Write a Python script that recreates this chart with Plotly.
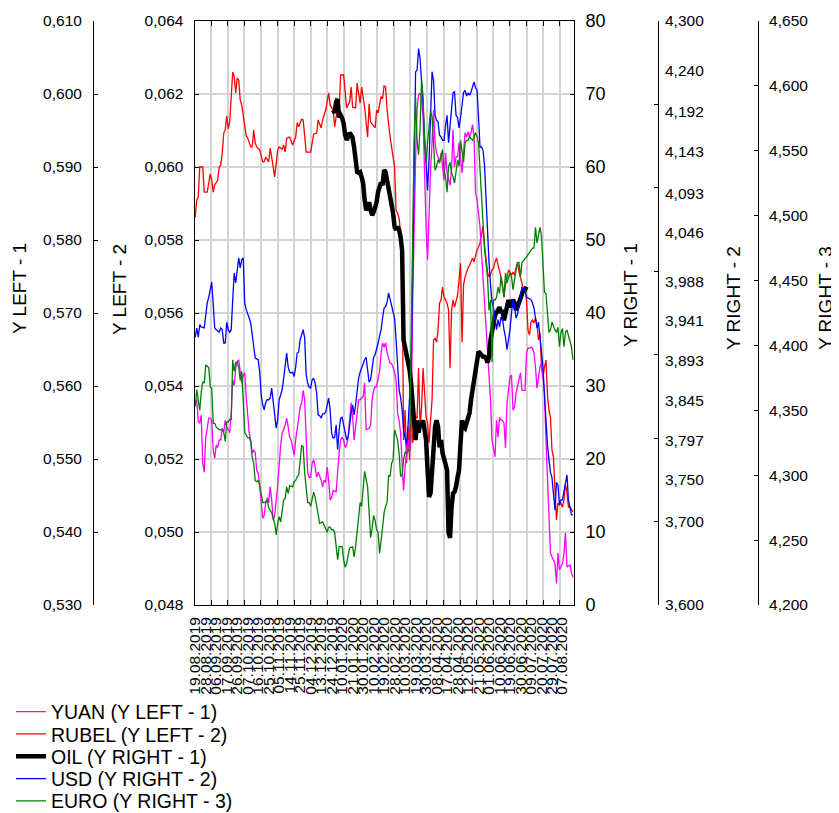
import plotly.graph_objects as go

FONT = "Liberation Sans, Arial, sans-serif"

date_labels = ["19.08.2019", "28.08.2019", "06.09.2019", "17.09.2019", "26.09.2019", "07.10.2019",
               "16.10.2019", "25.10.2019", "05.11.2019", "14.11.2019", "25.11.2019", "04.12.2019",
               "13.12.2019", "24.12.2019", "10.01.2020", "21.01.2020", "30.01.2020", "10.02.2020",
               "19.02.2020", "28.02.2020", "10.03.2020", "19.03.2020", "30.03.2020", "08.04.2020",
               "17.04.2020", "28.04.2020", "12.05.2020", "21.05.2020", "01.06.2020", "10.06.2020",
               "19.06.2020", "30.06.2020", "09.07.2020", "20.07.2020", "29.07.2020", "07.08.2020"]
label_step = 7  # one label every 7 trading days

# USD (Y RIGHT - 2), one value per trading day
usd = [3.921, 3.932, 3.921, 3.936, 3.933, 3.933, 3.932, 3.948, 3.962, 3.969,
       3.980, 3.987, 3.960, 3.932, 3.930, 3.929, 3.927, 3.932, 3.930, 3.914,
       3.914, 3.939, 3.930, 3.927, 3.930, 3.966, 3.998, 3.986, 4.004, 4.016,
       4.004, 4.014, 4.016, 3.962, 3.954, 3.950, 3.944, 3.938, 3.926, 3.914,
       3.896, 3.895, 3.894, 3.879, 3.852, 3.840, 3.834, 3.843, 3.846, 3.846,
       3.848, 3.860, 3.846, 3.831, 3.812, 3.822, 3.846, 3.852, 3.858, 3.872,
       3.888, 3.902, 3.885, 3.879, 3.878, 3.879, 3.874, 3.885, 3.902, 3.903,
       3.918, 3.924, 3.930, 3.920, 3.876, 3.866, 3.861, 3.860, 3.870, 3.872,
       3.866, 3.854, 3.828, 3.827, 3.824, 3.829, 3.829, 3.831, 3.840, 3.848,
       3.834, 3.806, 3.800, 3.801, 3.816, 3.786, 3.810, 3.824, 3.825, 3.816,
       3.804, 3.798, 3.801, 3.818, 3.830, 3.840, 3.828, 3.840, 3.858, 3.872,
       3.879, 3.885, 3.889, 3.894, 3.897, 3.885, 3.867, 3.870, 3.888, 3.897,
       3.900, 3.906, 3.914, 3.922, 3.930, 3.944, 3.956, 3.958, 3.963, 3.974,
       3.966, 3.960, 3.954, 3.944, 3.918, 3.894, 3.858, 3.849, 3.834, 3.810,
       3.798, 3.792, 3.816, 3.846, 3.882, 3.990, 4.133, 4.239, 4.241, 4.267,
       4.255, 4.229, 4.199, 4.161, 4.133, 4.097, 4.133, 4.185, 4.239, 4.229,
       4.187, 4.181, 4.179, 4.163, 4.161, 4.157, 4.157, 4.175, 4.187, 4.154,
       4.175, 4.193, 4.214, 4.215, 4.187, 4.184, 4.172, 4.184, 4.196, 4.214,
       4.217, 4.210, 4.214, 4.211, 4.215, 4.223, 4.227, 4.220, 4.217, 4.184,
       4.149, 4.149, 4.145, 4.127, 4.085, 4.050, 4.011, 3.984, 3.963, 3.957,
       3.945, 3.930, 3.942, 3.933, 3.945, 3.942, 3.930, 3.921, 3.906, 3.918,
       3.930, 3.950, 3.966, 3.960, 3.944, 3.948, 3.960, 3.974, 3.981, 3.978,
       3.978, 3.969, 3.968, 3.966, 3.966, 3.962, 3.956, 3.944, 3.932, 3.939,
       3.918, 3.906, 3.885, 3.852, 3.816, 3.792, 3.774, 3.759, 3.753, 3.729,
       3.714, 3.747, 3.744, 3.720, 3.726, 3.726, 3.735, 3.744, 3.756, 3.726,
       3.716, 3.708, 3.708]

# RUBEL (Y LEFT - 2)
rubel_day = [0, 1, 2, 3, 5, 6, 8, 10, 11, 12, 13, 15, 16, 17, 18, 19, 20, 21, 22, 23,
             24, 25, 26, 27, 28, 29, 30, 31, 33, 34, 35, 37, 38, 39, 40, 41, 43, 45, 46, 47,
             49, 50, 51, 53, 55, 56, 58, 59, 60, 61, 63, 64, 65, 67, 68, 69, 71, 72, 74, 77,
             79, 81, 82, 84, 85, 87, 89, 90, 92, 93, 95, 96, 97, 99, 100, 101, 103, 104, 105, 107,
             108, 110, 111, 113, 115, 116, 117, 119, 120, 121, 122, 124, 125, 126, 127, 128, 130, 132, 133, 134,
             135, 136] + list(range(137, 253))
rubel = [0.05863, 0.05910, 0.05918, 0.06000, 0.06000, 0.05931, 0.05931, 0.05981, 0.05964, 0.05931,
         0.05951, 0.05964, 0.06000, 0.06005, 0.06038, 0.06093, 0.06101, 0.06140, 0.06104, 0.06123,
         0.06192, 0.06260, 0.06247, 0.06203, 0.06244, 0.06238, 0.06184, 0.06170, 0.06115, 0.06085,
         0.06079, 0.06055, 0.06055, 0.06101, 0.06066, 0.06055, 0.06047, 0.06014, 0.06014, 0.06027,
         0.06014, 0.06052, 0.06027, 0.05973, 0.06047, 0.06055, 0.06049, 0.06060, 0.06041, 0.06079,
         0.06082, 0.06068, 0.06060, 0.06082, 0.06121, 0.06110, 0.06131, 0.06129, 0.06041, 0.06041,
         0.06090, 0.06093, 0.06129, 0.06107, 0.06129, 0.06156, 0.06203, 0.06170, 0.06156, 0.06110,
         0.06164, 0.06156, 0.06252, 0.06252, 0.06216, 0.06162, 0.06178, 0.06219, 0.06164, 0.06162,
         0.06230, 0.06175, 0.06219, 0.06164, 0.06082, 0.06173, 0.06123, 0.06110, 0.06107, 0.06156,
         0.06148, 0.06192, 0.06189, 0.06222, 0.06219, 0.06156, 0.06082, 0.06027, 0.06000, 0.05882,
         0.05874, 0.05860,
         0.05819, 0.05753, 0.05252, 0.05334, 0.05189, 0.05288, 0.05197, 0.05342, 0.05244, 0.05279,
         0.05315, 0.05312, 0.05449, 0.05288, 0.05342, 0.05449, 0.05362, 0.05315, 0.05299, 0.05244,
         0.05307, 0.05362, 0.05526, 0.05531, 0.05520, 0.05553, 0.05627, 0.05636, 0.05671, 0.05644,
         0.05636, 0.05627, 0.05608, 0.05449, 0.05608, 0.05636, 0.05616, 0.05630, 0.05649, 0.05690,
         0.05737, 0.05520, 0.05677, 0.05699, 0.05712, 0.05723, 0.05731, 0.05740, 0.05751, 0.05740,
         0.05759, 0.05773, 0.05781, 0.05792, 0.05814, 0.05838, 0.05786, 0.05740, 0.05712, 0.05699,
         0.05705, 0.05718, 0.05723, 0.05740, 0.05751, 0.05731, 0.05718, 0.05699, 0.05677, 0.05644,
         0.05677, 0.05704, 0.05718, 0.05712, 0.05704, 0.05712, 0.05704, 0.05723, 0.05737, 0.05712,
         0.05696, 0.05682, 0.05655, 0.05668, 0.05636, 0.05553, 0.05540, 0.05575, 0.05581, 0.05573,
         0.05586, 0.05567, 0.05526, 0.05545, 0.05452, 0.05422, 0.05452, 0.05471, 0.05375, 0.05334,
         0.05315, 0.05225, 0.05205, 0.05123, 0.05033, 0.05079, 0.05074, 0.05079, 0.05068, 0.05088,
         0.05129, 0.05110, 0.05068, 0.05068, 0.05060, 0.05055]

# YUAN (Y LEFT - 1)
yuan_day = [0, 1, 2, 3, 4, 5, 6, 7, 8, 9, 10, 11, 12, 13, 14, 15, 16, 17, 18, 19,
            20, 21, 23, 24, 25, 26, 27, 28, 29, 31, 32, 33, 34, 35, 36, 37, 38, 39, 40, 41,
            42, 43, 44, 45, 46, 47, 48, 49, 50, 51, 52, 53, 55, 56, 57, 58, 59, 60, 61, 62,
            63, 64, 65, 66, 67, 68, 70, 71, 72, 73, 74, 75, 76, 77, 78, 79, 80, 81, 82, 84,
            85, 86, 87, 88, 89, 90, 91, 92, 94, 95, 96, 97, 98, 99, 100, 101, 102, 104, 105, 106,
            107, 108, 109, 110, 111, 112, 113, 114, 116, 117, 118, 119, 120, 121, 122, 123, 124, 125, 126, 127,
            128, 130, 131, 132, 133, 134, 135, 136, 137, 138, 139, 140, 141, 142, 143, 144, 145, 146, 147, 148,
            149, 150, 151, 152, 153, 154, 155, 156, 157, 158, 159, 160, 161, 162, 163, 164, 165, 166, 167, 168,
            170, 171, 172, 173, 174, 175, 176, 177, 178, 180, 181, 182, 183, 184, 185, 186, 187, 188, 190, 191,
            192, 193, 194, 195, 196, 197, 198, 200, 201, 202, 203, 204, 205, 206, 207, 208, 210, 211, 212, 213,
            214, 215, 216, 217, 218, 220, 221, 222, 223, 224, 225, 226, 227, 228, 230, 231, 232, 233, 234, 235,
            236, 237, 238, 240, 241, 242, 243, 244, 245, 246, 247, 248, 250, 251, 252]
yuan = [0.5577, 0.5581, 0.5551, 0.5549, 0.5560, 0.5494, 0.5482, 0.5530, 0.5542, 0.5556,
        0.5556, 0.5553, 0.5512, 0.5501, 0.5519, 0.5516, 0.5526, 0.5526, 0.5542, 0.5537,
        0.5553, 0.5544, 0.5536, 0.5563, 0.5608, 0.5601, 0.5625, 0.5633, 0.5636, 0.5604,
        0.5615, 0.5618, 0.5585, 0.5556, 0.5536, 0.5526, 0.5508, 0.5512, 0.5509, 0.5485,
        0.5481, 0.5464, 0.5444, 0.5419, 0.5423, 0.5440, 0.5447, 0.5440, 0.5462, 0.5444,
        0.5416, 0.5423, 0.5464, 0.5499, 0.5519, 0.5536, 0.5540, 0.5547, 0.5556, 0.5544,
        0.5530, 0.5526, 0.5516, 0.5505, 0.5526, 0.5542, 0.5571, 0.5577, 0.5594, 0.5581,
        0.5522, 0.5481, 0.5475, 0.5475, 0.5494, 0.5499, 0.5489, 0.5475, 0.5482, 0.5471,
        0.5462, 0.5471, 0.5468, 0.5489, 0.5471, 0.5444, 0.5447, 0.5457, 0.5455, 0.5485,
        0.5508, 0.5526, 0.5530, 0.5526, 0.5516, 0.5519, 0.5530, 0.5577, 0.5558, 0.5526,
        0.5544, 0.5563, 0.5581, 0.5581, 0.5584, 0.5585, 0.5604, 0.5540, 0.5542, 0.5547,
        0.5581, 0.5594, 0.5599, 0.5599, 0.5611, 0.5620, 0.5645, 0.5659, 0.5653, 0.5659,
        0.5645, 0.5631, 0.5631, 0.5626, 0.5619, 0.5608, 0.5563, 0.5553, 0.5536, 0.5494,
        0.5457, 0.5489, 0.5512, 0.5526, 0.5508, 0.5526, 0.5708, 0.5841, 0.5910, 0.5978,
        0.5999, 0.6001, 0.5992, 0.5968, 0.5886, 0.5818, 0.5773, 0.5841, 0.5896, 0.5933,
        0.5978, 0.5933, 0.5919, 0.5914, 0.5905, 0.5919, 0.5900, 0.5882, 0.5919, 0.5892,
        0.5875, 0.5896, 0.5951, 0.5900, 0.5914, 0.5914, 0.5933, 0.5910, 0.5892, 0.5947,
        0.5941, 0.5948, 0.5941, 0.5947, 0.5958, 0.5941, 0.5864, 0.5855, 0.5818, 0.5782,
        0.5749, 0.5714, 0.5673, 0.5636, 0.5604, 0.5581, 0.5526, 0.5503, 0.5553, 0.5530,
        0.5557, 0.5553, 0.5553, 0.5549, 0.5515, 0.5577, 0.5612, 0.5615, 0.5567, 0.5571,
        0.5590, 0.5599, 0.5608, 0.5618, 0.5594, 0.5594, 0.5645, 0.5652, 0.5652, 0.5653,
        0.5652, 0.5645, 0.5626, 0.5597, 0.5626, 0.5631, 0.5612, 0.5590, 0.5526, 0.5471,
        0.5434, 0.5371, 0.5366, 0.5357, 0.5330, 0.5371, 0.5348, 0.5352, 0.5357, 0.5371,
        0.5399, 0.5352, 0.5355, 0.5344, 0.5338]

# OIL (Y RIGHT - 1)
oil_day = [92, 93, 94, 95, 96, 97, 98, 99, 100, 101, 102, 103, 104, 105, 106, 107, 108, 109, 110, 111,
           112, 113, 114, 115, 116, 117, 118, 119, 121, 122, 123, 124, 125, 126, 127, 128, 129, 130, 131, 132,
           133, 134, 135, 136, 137, 138, 139, 140, 141, 142, 143, 144, 145, 146, 147, 148, 149, 150, 151, 152,
           153, 154, 155, 156, 157, 158, 159, 160, 161, 162, 163, 164, 165, 166, 167, 168, 169, 170, 171, 172,
           173, 174, 175, 176, 177, 178, 179, 180, 181, 183, 184, 185, 186, 187, 188, 189, 190, 192, 193, 194,
           195, 196, 197, 198, 199, 200, 202, 203, 204, 205, 206, 207, 208, 209, 210, 212, 213, 214, 215, 216,
           217, 218, 219, 220, 221]
oil = [67.8, 67.4, 68.9, 69.3, 66.8, 67.1, 66.7, 66.0, 64.4, 63.7, 64.1, 64.7, 64.4, 64.0, 62.7, 61.4,
       59.3, 59.2, 59.3, 58.6, 57.8, 55.5, 54.1, 54.4, 55.2, 54.1, 53.4, 53.8, 55.2, 56.6, 57.5, 57.9,
       57.5, 59.6, 59.3, 58.2, 57.5, 55.9, 55.1, 53.7, 51.8, 51.4, 51.8, 51.4, 50.4, 48.6, 36.3, 35.3,
       34.7, 33.6, 32.2, 30.4, 28.1, 24.9, 22.6, 25.3, 23.6, 24.9, 24.4, 25.3, 24.0, 22.6, 18.5, 14.8,
       15.3, 18.9, 22.6, 24.4, 25.3, 24.4, 21.6, 22.6, 20.8, 20.0, 19.5, 18.5, 9.9, 9.2, 13.4, 15.3,
       15.5, 16.2, 17.5, 18.5, 22.2, 25.3, 24.4, 24.2, 24.9, 26.3, 28.1, 29.5, 30.8, 32.9, 33.8, 34.7,
       34.5, 34.0, 34.0, 33.8, 33.2, 34.0, 36.3, 37.7, 38.1, 39.7, 40.4, 40.8, 40.0, 40.4, 39.0, 40.0,
       40.8, 41.8, 40.8, 41.8, 41.4, 40.4, 40.8, 41.4, 42.2, 42.7, 43.2, 43.2, 43.6]

# EURO (Y RIGHT - 3)
euro_day = [0, 1, 2, 3, 4, 5, 6, 7, 9, 10, 11, 12, 13, 14, 15, 16, 18, 19, 20, 21,
            22, 23, 24, 25, 26, 27, 28, 29, 30, 31, 32, 33, 35, 36, 37, 38, 39, 40, 41, 42,
            43, 44, 45, 46, 47, 48, 49, 50, 51, 53, 54, 55, 56, 57, 58, 59, 60, 61, 62, 63,
            65, 66, 67, 68, 69, 70, 71, 72, 73, 75, 76, 77, 78, 79, 80, 81, 82, 83, 85, 86,
            87, 88, 89, 90, 91, 92, 93, 95, 96, 97, 98, 99, 100, 101, 102, 103, 105, 106, 107, 108,
            109, 110, 111, 112, 113, 115, 116, 117, 118, 119, 120, 121, 122, 123, 125, 126, 127, 128, 129, 130,
            131, 132, 133, 135, 136, 137, 138, 139, 140, 141, 143, 144, 145, 146, 147, 148, 149, 150, 151, 152,
            153, 154, 155, 156, 157, 158, 159, 160, 161, 162, 163, 165, 166, 167, 168, 169, 170, 171, 172, 173,
            175, 176, 177, 178, 179, 180, 181, 182, 183, 185, 186, 187, 188, 189, 190, 191, 192, 193, 195, 196,
            197, 198, 199, 200, 201, 202, 203, 204, 205, 206, 207, 208, 210, 211, 212, 213, 214, 215, 216, 217,
            218, 220, 221, 222, 223, 224, 225, 226, 227, 228, 230, 231, 232, 233, 234, 235, 236, 237, 238, 240,
            241, 242, 243, 244, 245, 246, 247, 248, 250, 251, 252]
euro = [4.353, 4.366, 4.358, 4.350, 4.364, 4.372, 4.371, 4.385, 4.383, 4.368,
        4.367, 4.340, 4.340, 4.337, 4.336, 4.335, 4.335, 4.333, 4.326, 4.341,
        4.341, 4.343, 4.343, 4.389, 4.380, 4.387, 4.387, 4.383, 4.373, 4.380,
        4.358, 4.333, 4.329, 4.329, 4.326, 4.314, 4.309, 4.296, 4.295, 4.296,
        4.292, 4.285, 4.279, 4.279, 4.279, 4.281, 4.275, 4.273, 4.271, 4.263,
        4.254, 4.263, 4.268, 4.264, 4.273, 4.281, 4.282, 4.291, 4.286, 4.292,
        4.291, 4.295, 4.296, 4.299, 4.300, 4.312, 4.323, 4.322, 4.302, 4.279,
        4.279, 4.276, 4.281, 4.287, 4.283, 4.276, 4.268, 4.263, 4.264, 4.262,
        4.259, 4.256, 4.260, 4.260, 4.258, 4.258, 4.256, 4.235, 4.245, 4.245,
        4.245, 4.235, 4.229, 4.232, 4.239, 4.244, 4.245, 4.237, 4.245, 4.258,
        4.271, 4.279, 4.276, 4.292, 4.303, 4.291, 4.268, 4.252, 4.259, 4.269,
        4.265, 4.258, 4.256, 4.240, 4.260, 4.271, 4.276, 4.279, 4.300, 4.299,
        4.309, 4.312, 4.335, 4.327, 4.317, 4.299, 4.300, 4.312, 4.318, 4.317,
        4.320, 4.410, 4.489, 4.558, 4.591, 4.558, 4.547, 4.568, 4.605, 4.592,
        4.556, 4.541, 4.556, 4.571, 4.581, 4.576, 4.553, 4.535, 4.538, 4.543,
        4.541, 4.551, 4.535, 4.530, 4.518, 4.538, 4.541, 4.533, 4.530, 4.525,
        4.543, 4.538, 4.558, 4.551, 4.541, 4.556, 4.558, 4.558, 4.561, 4.558,
        4.560, 4.564, 4.561, 4.556, 4.535, 4.514, 4.494, 4.474, 4.453, 4.427,
        4.435, 4.387, 4.435, 4.435, 4.437, 4.445, 4.440, 4.453, 4.445, 4.437,
        4.456, 4.448, 4.456, 4.453, 4.443, 4.453, 4.458, 4.464, 4.464, 4.453,
        4.464, 4.467, 4.468, 4.470, 4.472, 4.474, 4.475, 4.475, 4.491, 4.479,
        4.491, 4.484, 4.464, 4.441, 4.440, 4.427, 4.410, 4.412, 4.418, 4.412,
        4.410, 4.414, 4.399, 4.410, 4.413, 4.399, 4.410, 4.412, 4.402, 4.399,
        4.389]

usd_labels = [3.600, 3.700, 3.750, 3.797, 3.845, 3.893, 3.941, 3.988, 4.046, 4.093,
              4.143, 4.192, 4.240, 4.300]

# ---- page geometry (the page body adds an 8 px offset to the figure) ----
OFF = 8
W, H = 839 - OFF, 813 - OFF
PLOT_L, PLOT_R, PLOT_T, PLOT_B = 194.5, 574.0, 21.0, 605.0   # in window pixels
x_range = [-0.5, 252.7]


def px(xw):      # window x -> paper fraction
    return (xw - OFF) / W


def py(yw):      # window y -> paper fraction (plot area height based)
    return (PLOT_B - yw) / (PLOT_B - PLOT_T)


series = [
    ("YUAN (Y LEFT - 1)", yuan_day, yuan, "y2", "#ff00ff", 1.3),
    ("RUBEL (Y LEFT - 2)", rubel_day, rubel, "y", "#ff0000", 1.3),
    ("OIL (Y RIGHT - 1)", oil_day, oil, "y3", "#000000", 4.5),
    ("USD (Y RIGHT - 2)", list(range(len(usd))), usd, "y4", "#0000ff", 1.3),
    ("EURO (Y RIGHT - 3)", euro_day, euro, "y6", "#008000", 1.3),
]
legend_rows = [712, 734.3, 756.6, 778.9, 801.2]   # window y of the legend rows

fig = go.Figure()
legend_layouts = {}
for k, (name, xs, ys, yax, color, width) in enumerate(series):
    lg = "legend" if k == 0 else "legend%d" % (k + 1)
    fig.add_trace(go.Scatter(x=xs, y=ys, name=name, mode="lines", yaxis=yax,
                             line=dict(color=color, width=width), legend=lg))
    legend_layouts[lg] = dict(x=(11 - OFF) / W, xref="container", xanchor="left",
                              y=1 - (legend_rows[k] - OFF) / H, yref="container", yanchor="middle",
                              font=dict(family=FONT, size=19.5, color="black"),
                              bgcolor="rgba(0,0,0,0)", borderwidth=0)
# helper (empty) traces that carry the label-only axes
fig.add_trace(go.Scatter(x=[None], y=[None], yaxis="y5", showlegend=False, hoverinfo="skip"))
fig.add_trace(go.Scatter(x=[None], y=[None], xaxis="x2", yaxis="y", showlegend=False, hoverinfo="skip"))

tickfont = dict(family=FONT, size=15.5, color="black")
titlefont = dict(family=FONT, size=19, color="black")
common_y = dict(ticks="inside", ticklen=4, tickcolor="black", showline=True, linecolor="black",
                linewidth=1, showgrid=False, zeroline=False, tickfont=tickfont, fixedrange=True,
                automargin=False)

titles = [("Y LEFT - 1", 20, 289), ("Y LEFT - 2", 120, 289), ("Y RIGHT - 1", 630, 295),
          ("Y RIGHT - 2", 733, 298), ("Y RIGHT - 3", 825, 298)]
annotations = [dict(text=t, x=px(xw), y=py(yw), xref="paper", yref="paper", showarrow=False,
                    textangle=-90, xanchor="center", yanchor="middle", font=titlefont)
               for t, xw, yw in titles]

fig.update_layout(
    width=W, height=H,
    margin=dict(l=0, r=0, t=PLOT_T - OFF, b=H - (PLOT_B - OFF), autoexpand=False),
    paper_bgcolor="white", plot_bgcolor="white",
    separators=", ",
    font=dict(family=FONT, size=15.5, color="black"),
    showlegend=True,
    annotations=annotations,
    xaxis=dict(domain=[px(PLOT_L), px(PLOT_R)], range=x_range, tick0=x_range[0],
               dtick=(x_range[1] - x_range[0]) / 22.86, automargin=False,
               ticks="inside", ticklen=5, tickcolor="black", showticklabels=False,
               showgrid=True, gridcolor="#d4d4d4", gridwidth=1.6,
               showline=True, linecolor="black", linewidth=1, mirror="ticks", zeroline=False),
    xaxis2=dict(overlaying="x", anchor="y", side="bottom", range=x_range, automargin=False,
                tickmode="array", tickvals=[i * label_step for i in range(len(date_labels))],
                ticktext=date_labels, tickangle=-90, ticks="", showgrid=False, showline=False,
                zeroline=False, tickfont=tickfont, ticklabelstandoff=8),
    yaxis=dict(common_y, range=[0.048, 0.064], dtick=0.002, tickformat=".3f",
               showgrid=True, gridcolor="#d4d4d4", gridwidth=1.6, side="left", anchor="x",
               ticklabelstandoff=7),
    yaxis2=dict(common_y, range=[0.530, 0.610], dtick=0.01, tickformat=".3f",
                overlaying="y", side="left", anchor="free", position=px(93),
                ticklabelstandoff=8),
    yaxis3=dict(common_y, range=[0, 80], dtick=10, overlaying="y", side="right", anchor="x",
                tickfont=dict(family=FONT, size=18, color="black"), ticklabelstandoff=7),
    yaxis4=dict(common_y, range=[3.6, 4.3], tick0=3.6, dtick=0.1, showticklabels=False,
                overlaying="y", side="right", anchor="free", position=px(658)),
    yaxis5=dict(range=[3.6, 4.3], tickmode="array", tickvals=usd_labels, tickformat=".3f",
                ticks="", showline=False, showgrid=False, zeroline=False, tickfont=tickfont,
                automargin=False, ticklabelstandoff=6,
                overlaying="y", side="right", anchor="free", position=px(658)),
    yaxis6=dict(common_y, range=[4.2, 4.65], dtick=0.05, tickformat=".3f",
                overlaying="y", side="right", anchor="free", position=px(758),
                ticklabelstandoff=7),
    **legend_layouts,
)

fig.write_html("out.html")
